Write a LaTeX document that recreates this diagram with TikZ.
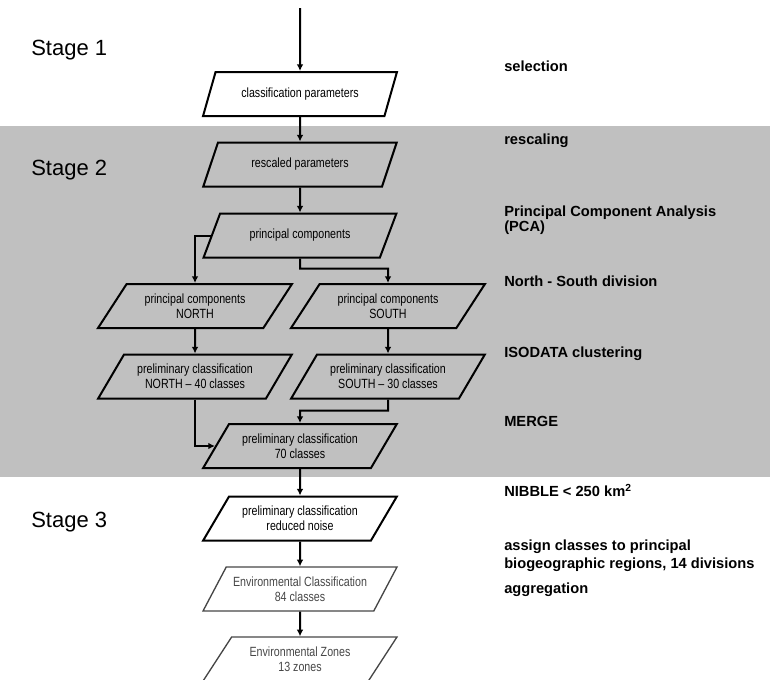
\documentclass[tikz,border=0pt]{standalone}
\usepackage{fontspec}
\setmainfont{Liberation Sans}
\newfontfamily\narrowfont{Liberation Sans}[FakeStretch=0.8, Ligatures=TeX]
\usetikzlibrary{shapes.geometric,arrows.meta}
\definecolor{bandgray}{RGB}{192,192,192}
\definecolor{envgray}{RGB}{70,70,70}

\begin{document}
\begin{tikzpicture}[x=0.75pt, y=-0.75pt,
  io/.style={draw, trapezium, trapezium left angle=50, trapezium right angle=130,
    trapezium stretches=true, minimum width=145.5pt, minimum height=33pt,
    line width=1.5pt, inner sep=0pt, align=center,
    font=\narrowfont\fontsize{10}{11.5}\selectfont},
  steep/.style={trapezium left angle=55, trapezium right angle=125},
  envbox/.style={io, draw=envgray, line width=1pt, text=envgray},
  arr/.style={-{Latex[length=5pt,width=5pt]}, line width=1.5pt},
  stage/.style={anchor=base west, inner sep=0pt, font=\fontsize{16.5}{19}\selectfont},
  note/.style={anchor=base west, inner sep=0pt, align=left,
    font=\bfseries\fontsize{11}{13.3}\selectfont}]

\clip (0,0) rectangle (770,679);

% Stage 2 band
\fill[bandgray] (0,126) rectangle (770,476.5);

% Stages
\node (stage1) [stage] at (31,55.7) {Stage 1};
\node (stage2) [stage] at (31,175) {Stage 2};
\node (stage3) [stage] at (31,527.7) {Stage 3};

% Nodes
\coordinate (entry) at (300,8);
\node (params) [io, steep] at (300,94) {classification parameters};
\node (rescaled) [io, steep] at (300,164.5) {rescaled parameters};
\node (pc) [io] at (300,235.5) {principal components};
\node (pcNorth) [io] at (195,306) {principal components\\NORTH};
\node (pcSouth) [io] at (388,306) {principal components\\SOUTH};
\node (prelNorth) [io] at (195,376.5) {preliminary classification\\NORTH – 40 classes};
\node (prelSouth) [io] at (388,376.5) {preliminary classification\\SOUTH – 30 classes};
\node (merged) [io] at (300,446) {preliminary classification\\70 classes};
\node (noise) [io] at (300,518.5) {preliminary classification\\reduced noise};
\node (envClass) [envbox] at (300,589) {Environmental Classification\\84 classes};
\node (envZones) [envbox] at (300,659) {Environmental Zones\\13 zones};

% Steps (base = last line)
\node (selection) [note] at (504,71.7) {selection};
\node (rescaling) [note] at (504,144.3) {rescaling};
\node (pca) [note] at (504,231.7) {Principal Component Analysis\\[-1.9pt](PCA)};
\node (division) [note] at (504,286) {North - South division};
\node (isodata) [note] at (504,357.3) {ISODATA clustering};
\node (merge) [note] at (504,426.7) {MERGE};
\node (nibble) [note] at (504,496.7) {NIBBLE < 250 km\textsuperscript{2}};
\node (assign) [note] at (504,568.3) {assign classes to principal\\biogeographic regions, 14 divisions};
\node (aggregation) [note] at (504,593) {aggregation};

% Arrows
\draw[arr] (entry) -- (params);
\draw[arr] (params) -- (rescaled);
\draw[arr] (rescaled) -- (pc);

\draw[arr] (pc.west) -| (pcNorth);
\draw[arr] (pc) -- ++(0,33) -| (pcSouth);

\draw[arr] (pcNorth) -- (prelNorth);
\draw[arr] (pcSouth) -- (prelSouth);

\draw[arr] (prelNorth) |- (merged);
\draw[arr] (prelSouth) -- ++(0,34) -| (merged);

\draw[arr] (merged) -- (noise);
\draw[arr] (noise) -- (envClass);
\draw[arr] (envClass) -- (envZones);

\end{tikzpicture}
\end{document}
